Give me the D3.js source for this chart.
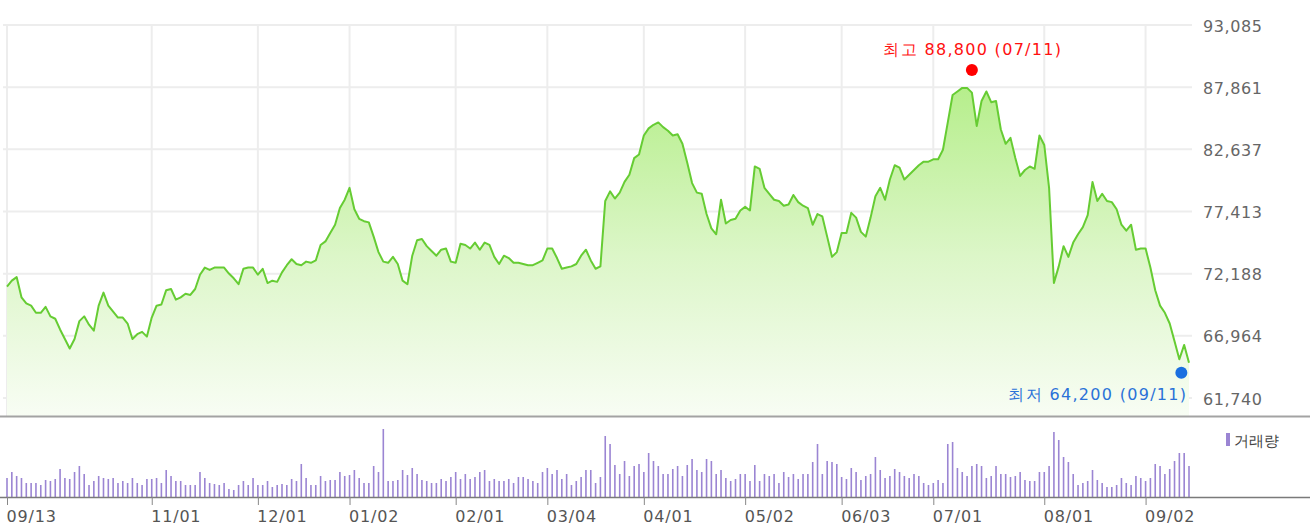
<!DOCTYPE html>
<html><head><meta charset="utf-8">
<script src="https://cdn.jsdelivr.net/npm/d3@7/dist/d3.min.js"></script>
<style>
body{margin:0;background:#fff;overflow:hidden}
svg{display:block}
text{font-family:"DejaVu Sans",sans-serif}
</style>
</head><body>
<svg id="chart" width="1310" height="531"></svg>
<script>
// Daily closing prices (KRW), 09/13 .. 09/13
const closes = [
71100,71600,71900,70200,69700,69500,68900,68900,69400,68600,
68400,67500,66700,65900,66700,68200,68600,67900,67400,69500,
70600,69500,69000,68500,68500,68000,66700,67100,67300,66900,
68500,69500,69600,70800,70900,70000,70200,70500,70400,70900,
72100,72700,72500,72700,72700,72700,72200,71800,71300,72600,
72700,72700,72100,72600,71400,71600,71500,72300,72900,73400,
73000,72900,73200,73100,73300,74600,74900,75600,76300,77700,
78400,79400,77600,76800,76600,76500,75300,74000,73200,73100,
73600,73000,71600,71300,73700,75000,75100,74500,74100,73700,
74200,74300,73200,73100,74700,74600,74300,74800,74200,74800,
74600,73600,73000,73700,73500,73100,73100,73000,72900,72900,
73100,73300,74300,74300,73500,72600,72700,72800,73000,73700,
74200,73300,72600,72800,78300,79100,78500,79000,79900,80500,
81900,82200,83800,84400,84700,84900,84500,84200,83800,83900,
83100,81500,79800,79000,78900,77200,76000,75500,78400,76400,
76700,76800,77500,77800,77500,81200,81000,79400,78900,78400,
78300,77900,78000,78800,78200,77900,77700,76300,77200,77000,
75300,73600,74000,75600,75600,77300,76900,75700,75300,76900,
78700,79400,78400,80100,81300,81100,80100,80500,80900,81300,
81600,81600,81800,81800,82600,84900,87200,87500,87800,87800,
87400,84600,86700,87500,86600,86700,84300,83100,83600,81900,
80400,80900,81200,81000,83800,83000,79400,71400,72800,74500,
73600,74800,75500,76100,77100,79900,78300,78900,78300,78200,
77600,76300,75800,76300,74200,74300,74300,72700,70800,69500,
68900,68000,66500,65000,66200,64700
];
// Daily volume (thousand shares)
const volumes = [
9500,12500,10500,9500,7000,7000,7000,6000,8500,8000,
9000,14000,9500,9000,12500,15500,11500,6000,8000,10500,
9500,9000,9500,7000,8000,7000,9500,7000,6000,9000,
9000,9500,7000,13500,10500,8000,8000,6000,6000,6000,
12500,9500,7000,6500,6000,7000,4000,3500,6000,8000,
6000,9500,6000,6000,8000,5000,6000,6500,6000,9000,
8000,16500,9500,6000,6000,10500,8000,8500,8500,12500,
10500,11000,13500,9500,7000,7000,15500,12500,34000,8000,
8000,8500,13500,11000,14500,11500,8500,8000,7000,7000,
9000,8000,10000,12500,9000,11500,9000,10000,12500,13500,
8000,9000,8000,8000,9000,7000,10000,10000,9000,8000,
7000,12500,14500,11500,13500,9000,11500,6000,8000,10000,
13500,13500,7000,10000,30500,26500,16000,11500,18000,10500,
15500,16500,12500,22000,18000,15500,11500,11500,14000,15500,
10500,16000,19000,13500,12500,19000,18000,11500,13500,9500,
8000,9000,11500,11500,8000,16000,8000,11500,10500,11500,
7000,12500,10000,11500,9000,11500,11500,17500,26500,11500,
18000,17500,16500,10000,9000,14500,12500,8500,10500,11500,
20000,13500,9500,10500,14000,12500,10500,9500,11500,10500,
7000,6000,7000,8500,7000,26500,27500,14500,12500,10500,
15500,16500,15500,9500,10500,15500,11500,11500,10000,10500,
12500,8500,8000,8000,12500,12500,15500,32500,28500,20000,
17500,11500,6000,7000,8000,13500,8500,7000,5000,5000,
6000,9500,7000,6000,10500,9500,8000,9500,16500,15500,
11500,14000,18000,22000,22000,15500
];
const tickIndex  = [0,30,52,71,93,112,132,153,173,192,215,236];
const tickLabels = ["09/13","11/01","12/01","01/02","02/01","03/04","04/01","05/02","06/03","07/01","08/01","09/02"];
const priceTicks = [61740,66964,72188,77413,82637,87861,93085];
const highMark = {index:200, value:88800, label:"최고 88,800 (07/11)"};
const lowMark  = {index:243, value:64200, label:"최저 64,200 (09/11)"};
const legendLabel = "거래량";

const svg = d3.select("#chart");
const W = 1310;
const plotL = 3, plotR = 1192, plotTop = 25, plotBottom = 416;
const x = d3.scaleLinear().domain([0, closes.length - 1]).range([7, 1189]);
const y = d3.scaleLinear().domain([61740, 93085]).range([398, 25]);
const yv = d3.scaleLinear().domain([0, d3.max(volumes)]).range([497, 429]);

const defs = svg.append("defs");
const grad = defs.append("linearGradient").attr("id","fillG")
  .attr("gradientUnits","userSpaceOnUse").attr("x1",0).attr("x2",0).attr("y1",60).attr("y2",plotBottom);
grad.append("stop").attr("offset",0).attr("stop-color","#b0ed82");
grad.append("stop").attr("offset",0.55).attr("stop-color","#dcf6c8");
grad.append("stop").attr("offset",1).attr("stop-color","#f8fdf4");

// grid
const grid = svg.append("g");
grid.selectAll("line.h").data(priceTicks).join("line")
  .attr("x1",plotL).attr("x2",plotR).attr("y1",d=>y(d)).attr("y2",d=>y(d))
  .attr("stroke","#ededed").attr("stroke-width",2);
grid.selectAll("line.v").data(tickIndex).join("line")
  .attr("x1",d=>x(d)).attr("x2",d=>x(d)).attr("y1",plotTop).attr("y2",plotBottom)
  .attr("stroke","#ededed").attr("stroke-width",2);

// area + line
const idx = d3.range(closes.length);
svg.append("path").datum(idx)
  .attr("d", d3.area().x(i=>x(i)).y0(plotBottom).y1(i=>y(closes[i])))
  .attr("fill","url(#fillG)");
svg.append("path").datum(idx)
  .attr("d", d3.line().x(i=>x(i)).y(i=>y(closes[i])))
  .attr("fill","none").attr("stroke","#66cc33").attr("stroke-width",2).attr("stroke-linejoin","round");

// price panel bottom line
svg.append("line").attr("x1",0).attr("x2",W).attr("y1",plotBottom+0.5).attr("y2",plotBottom+0.5)
  .attr("stroke","#a3a3a3").attr("stroke-width",2);

// y axis labels
const yAxis = d3.axisRight(y).tickValues(priceTicks).tickSize(0).tickPadding(0)
  .tickFormat(d3.format(","));
const ya = svg.append("g").attr("transform","translate(1203,1)").call(yAxis);
ya.select(".domain").remove();
ya.selectAll("text").attr("font-size",16).attr("fill","#666").attr("font-family","DejaVu Sans")
  .attr("letter-spacing","0.6px");

// high / low markers
svg.append("circle").attr("cx",x(highMark.index)).attr("cy",y(highMark.value)-6).attr("r",6).attr("fill","#ff0000");
svg.append("text").attr("x",x(highMark.index)+1).attr("y",y(highMark.value)-21)
  .attr("text-anchor","middle").attr("font-size",16).attr("letter-spacing","1.3px")
  .attr("fill","#ff1010").text(highMark.label);
svg.append("circle").attr("cx",x(lowMark.index)+2).attr("cy",y(lowMark.value)+4).attr("r",6).attr("fill","#1a6fe0");
svg.append("text").attr("x",x(lowMark.index)+8).attr("y",y(lowMark.value)+31)
  .attr("text-anchor","end").attr("font-size",16).attr("letter-spacing","1.3px")
  .attr("fill","#2a72d8").text(lowMark.label);

// volume bars
svg.append("g").selectAll("rect").data(volumes).join("rect")
  .attr("x",(d,i)=>x(i)-0.8).attr("width",1.6)
  .attr("y",d=>yv(d)).attr("height",d=>yv(0)-yv(d))
  .attr("fill","#9b85d3");

// volume baseline + ticks
svg.append("line").attr("x1",0).attr("x2",W).attr("y1",497.5).attr("y2",497.5)
  .attr("stroke","#7a7a7a").attr("stroke-width",1.5);
const xAxis = d3.axisBottom(x).tickValues(tickIndex).tickSize(8).tickPadding(6)
  .tickFormat((d,i)=>tickLabels[i]);
const xa = svg.append("g").attr("transform","translate(0,497)").call(xAxis);
xa.select(".domain").remove();
xa.selectAll("line").attr("stroke","#888");
xa.selectAll("text").attr("font-size",16).attr("fill","#555").attr("font-family","DejaVu Sans")
  .attr("letter-spacing","0.8px").attr("text-anchor","start").attr("x",-1);

// legend
svg.append("rect").attr("x",1226).attr("y",433).attr("width",4).attr("height",13).attr("fill","#9b85d3");
svg.append("text").attr("x",1234).attr("y",446).attr("font-size",15).attr("fill","#444").text(legendLabel);
</script>
</body></html>
